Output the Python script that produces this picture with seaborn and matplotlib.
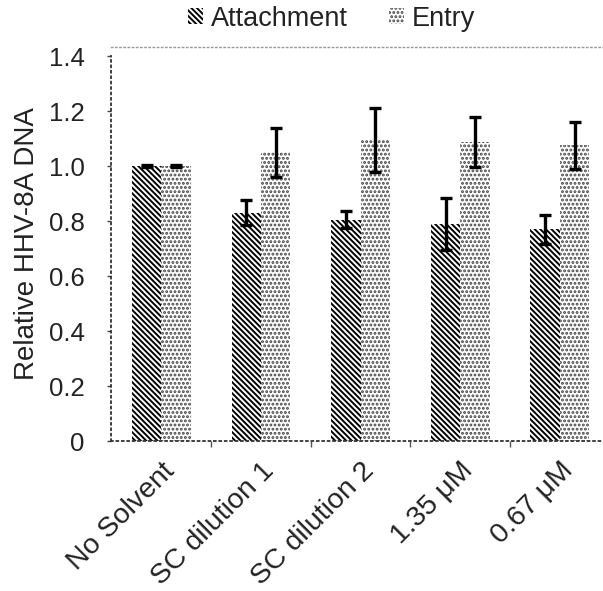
import numpy as np
import pandas as pd
import matplotlib
matplotlib.use("Agg")
import matplotlib.pyplot as plt
import matplotlib.patches as mpatches
from matplotlib.ticker import FixedLocator, FuncFormatter
import seaborn as sns

# values
categories = ['No Solvent', 'SC dilution 1', 'SC dilution 2', '1.35 \u03bcM', '0.67 \u03bcM']
attachment = [1.00, 0.83, 0.805, 0.79, 0.77]
attachment_err = [0.005, 0.045, 0.03, 0.095, 0.053]
entry = [1.00, 1.05, 1.095, 1.087, 1.075]
entry_err = [0.005, 0.09, 0.117, 0.091, 0.086]
series = ['Attachment', 'Entry']

df = pd.DataFrame({
   'cond': categories * 2,
   'value': attachment + entry,
   'err': attachment_err + entry_err,
   'series': [series[0]] * len(categories) + [series[1]] * len(categories),
})

sns.set_style('white')
plt.rcParams['font.family'] = ['Liberation Sans', 'DejaVu Sans']
plt.rcParams['hatch.linewidth'] = 1.4

fig = plt.figure(figsize=(6.03, 5.91), dpi=100)
ax = fig.add_axes([0.184, 0.2538, 0.816, 0.6667])

sns.barplot(data=df, x='cond', y='value', hue='series', hue_order=series,
            order=categories, errorbar=None, width=0.59, ax=ax,
            palette=['white', 'white'], legend=False)

hatches = ['\\' * 6, '....']
hcolors = ['black', '#444444']
errs = [attachment_err, entry_err]
for cont, h, c, e in zip(ax.containers, hatches, hcolors, errs):
   xs, ys = [], []
   for bar in cont:
      bar.set_hatch(h)
      bar.set_edgecolor(c)
      bar.set_linewidth(0)
      xs.append(bar.get_x() + bar.get_width() / 2)
      ys.append(bar.get_height())
   ax.errorbar(xs, ys, yerr=e, fmt='none', ecolor='black', elinewidth=2.4,
               capsize=4, capthick=2.4, zorder=5)

ax.set_xlim(-0.507, 4.433)
ax.set_ylim(0, 1.433)
ax.yaxis.set_major_locator(FixedLocator(np.arange(0, 1.41, 0.2)))
ax.yaxis.set_major_formatter(FuncFormatter(lambda v, p: '0' if v == 0 else f'{v:.1f}'))
ax.tick_params(axis='y', labelsize=18.5, length=3, width=1, color='#444444',
               pad=16, labelcolor='#222222', left=True)
ax.set_xlabel('')
ax.set_ylabel('Relative HHV-8A DNA', fontsize=20, color='#222222')
ax.yaxis.set_label_coords(-0.145, 0.5)

ax.set_xticks(range(len(categories)))
ax.set_xticklabels(categories, rotation=45, ha='right', rotation_mode='anchor',
                   fontsize=20.5, color='#222222')
ax.tick_params(axis='x', which='major', length=0, pad=12)
ax.set_xticks(np.arange(0.5, len(categories) - 0.5, 1), minor=True)
ax.tick_params(axis='x', which='minor', length=4, width=1, color='#555555', bottom=True)

for side in ['left', 'bottom']:
   ax.spines[side].set_linestyle((0, (1, 2)))
   ax.spines[side].set_color('#333333')
   ax.spines[side].set_linewidth(1.3)
ax.spines['left'].set_bounds(0, 1.4)
ax.spines['top'].set_linestyle((0, (1, 2)))
ax.spines['top'].set_color('#999999')
ax.spines['top'].set_linewidth(1)
ax.spines['right'].set_visible(False)

handles = [mpatches.Patch(facecolor='white', edgecolor=c, hatch=h, linewidth=0)
           for h, c in zip(hatches, hcolors)]
fig.legend(handles, series, loc='center', bbox_to_anchor=(0.55, 0.968), ncol=2,
           frameon=False, fontsize=19.5, handlelength=0.55, handleheight=0.55,
           handletextpad=0.3, columnspacing=1.5, labelcolor='#222222')

fig.savefig('out.png', dpi=100)
